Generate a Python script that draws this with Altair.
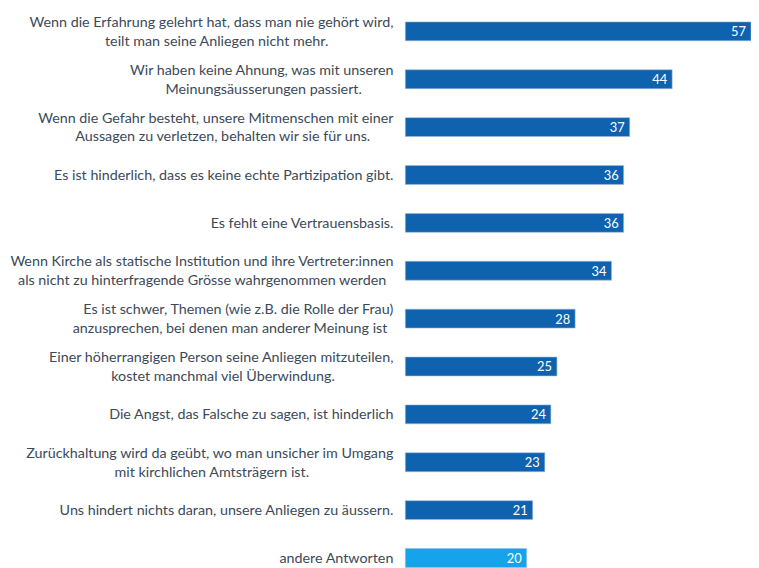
import altair as alt
import pandas as pd

labels = [
    ["Wenn die Erfahrung gelehrt hat, dass man nie gehört wird,", "teilt man seine Anliegen nicht mehr."],
    ["Wir haben keine Ahnung, was mit unseren", "Meinungsäusserungen passiert."],
    ["Wenn die Gefahr besteht, unsere Mitmenschen mit einer", "Aussagen zu verletzen, behalten wir sie für uns."],
    ["Es ist hinderlich, dass es keine echte Partizipation gibt."],
    ["Es fehlt eine Vertrauensbasis."],
    ["Wenn Kirche als statische Institution und ihre Vertreter:innen", "als nicht zu hinterfragende Grösse wahrgenommen werden"],
    ["Es ist schwer, Themen (wie z.B. die Rolle der Frau)", "anzusprechen, bei denen man anderer Meinung ist"],
    ["Einer höherrangigen Person seine Anliegen mitzuteilen,", "kostet manchmal viel Überwindung."],
    ["Die Angst, das Falsche zu sagen, ist hinderlich"],
    ["Zurückhaltung wird da geübt, wo man unsicher im Umgang", "mit kirchlichen Amtsträgern ist."],
    ["Uns hindert nichts daran, unsere Anliegen zu äussern."],
    ["andere Antworten"],
]
values = [57, 44, 37, 36, 36, 34, 28, 25, 24, 23, 21, 20]
groups = ["main"] * 11 + ["other"]

keys = [" ".join(l) for l in labels]
df = pd.DataFrame({"key": keys, "value": values, "group": groups})

FONT = "Lato"
FS = 14.4
LINE_H = 19
LABEL_GAP = 12
STEP = 48.2
PAD_INNER = 0.605
PAD_OUTER = 0.25
BAR_H = STEP * (1 - PAD_INNER)


# rough text-width estimate (px) used only to centre the shorter line of a label block
def est_width(s):
    w = 0.0
    for c in s:
        if c in "iljtfr.,:;'()! ":
            w += 0.27
        elif c in "mwMW":
            w += 0.82
        elif c.isupper():
            w += 0.64
        else:
            w += 0.51
    return w * FS


rows = []
for k, lines in zip(keys, labels):
    ws = [est_width(s) for s in lines]
    mx = max(ws)
    n = len(lines)
    for i, (s, w) in enumerate(zip(lines, ws)):
        rows.append({
            "key": k,
            "line": s,
            "px": -LABEL_GAP - (mx - w) / 2,
            "dy": (i - (n - 1) / 2) * LINE_H,
        })
lab = pd.DataFrame(rows)

y_scale = alt.Scale(paddingInner=PAD_INNER, paddingOuter=PAD_OUTER)
y = alt.Y("key:N", sort=keys, scale=y_scale, axis=None)
x = alt.X("value:Q", scale=alt.Scale(domain=[0, 57], nice=False), axis=None)

bars = alt.Chart(df).mark_bar(stroke="#9dbbdb", strokeWidth=0.6).encode(
    x=x, y=y,
    color=alt.Color("group:N", scale=alt.Scale(domain=["main", "other"], range=["#0e62ae", "#15a4ea"]), legend=None),
)
vals = alt.Chart(df).mark_text(align="right", baseline="middle", dx=-5, dy=1, color="white", font=FONT, fontSize=13).encode(
    x=x, y=y, text="value:Q"
)
labs = alt.Chart(lab).mark_text(align="right", baseline="middle", dy=1 + BAR_H / 2, color="#3b4a5a", font=FONT, fontSize=FS).encode(
    x=alt.X("px:Q", scale=None, axis=None),
    y=y,
    yOffset=alt.YOffset("dy:Q", scale=None),
    text="line:N",
)

chart = alt.layer(bars, vals, labs).resolve_scale(x="independent").properties(
    width=348, height=STEP * (12 - PAD_INNER + 2 * PAD_OUTER),
    autosize=alt.AutoSizeParams(type="none"),
    padding={"left": 400, "top": 0, "right": 0, "bottom": 0},
).configure_view(stroke=None)

chart.save("out.html", embed_options={"renderer": "svg", "actions": False})
